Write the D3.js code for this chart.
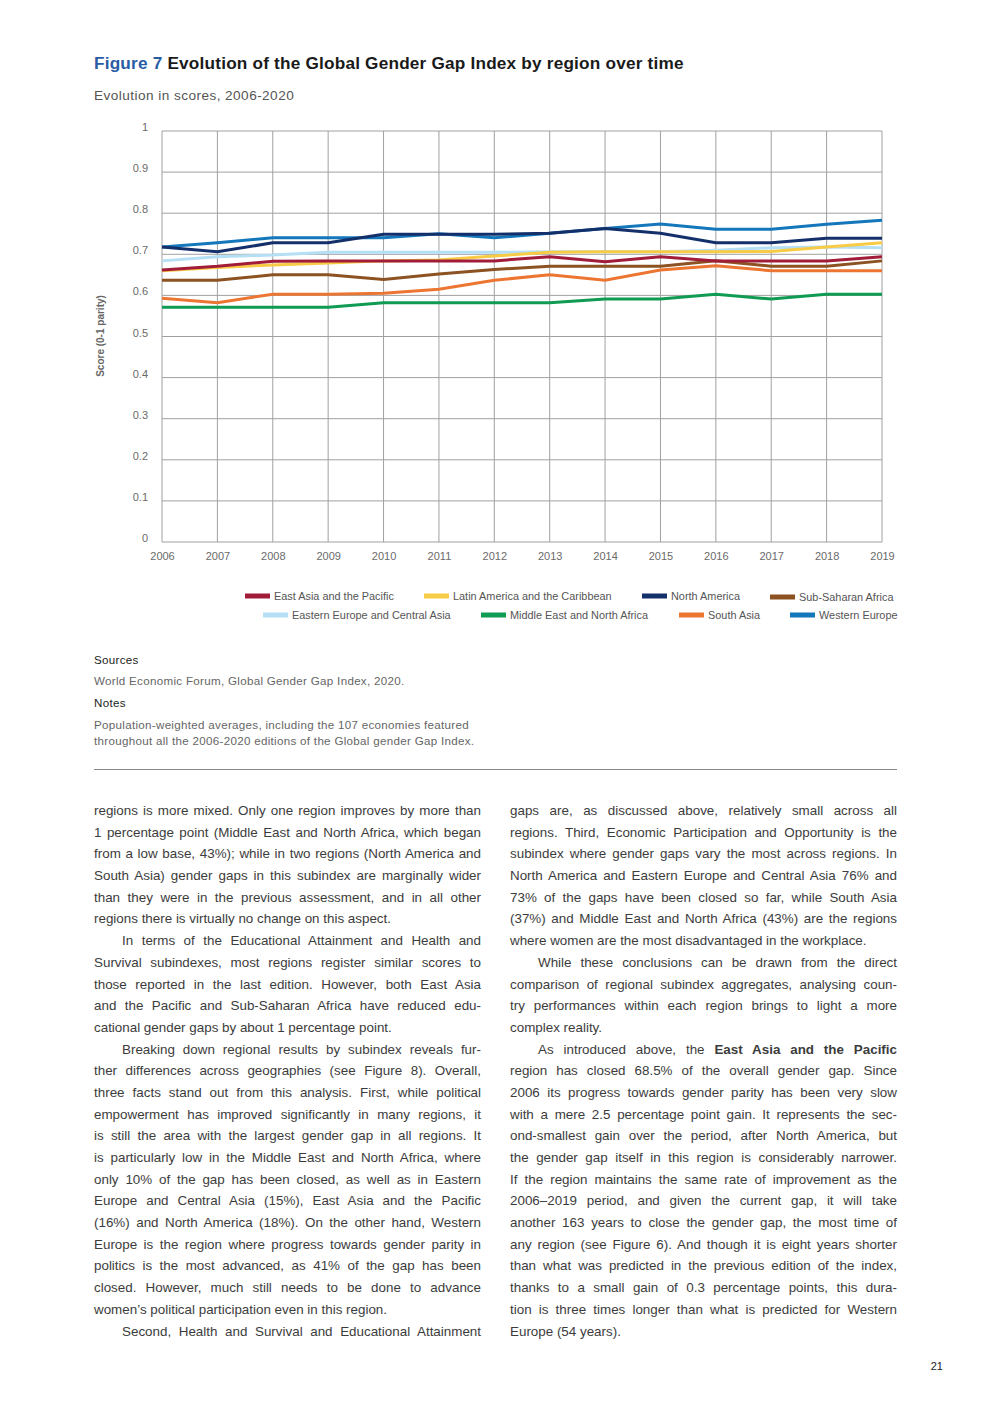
<!DOCTYPE html>
<html>
<head>
<meta charset="utf-8">
<script src="https://cdn.jsdelivr.net/npm/d3@7"></script>
<style>
  html, body { margin: 0; padding: 0; background: #fff; }
  #page { position: relative; width: 992px; height: 1403px; overflow: hidden; font-family: "Liberation Sans", Arial, sans-serif; }
  svg { position: absolute; left: 0; top: 0; }
  .col { position: absolute; width: 387px; font-size: 13.4px; color: #3c3c3c; line-height: 21.7px; }
  .ln { white-space: nowrap; text-align: justify; text-align-last: justify; height: 21.7px; overflow: visible; }
  .ln.last { text-align-last: left; }
  .ln.ind { padding-left: 28px; }
</style>
</head>
<body>
<div id="page"></div>
<script>
// ---------------- data ----------------
const years = [2006, 2007, 2008, 2009, 2010, 2011, 2012, 2013, 2014, 2015, 2016, 2017, 2018, 2019];
const yearLabels = ["2006","2007","2008","2009","2010","2011","2012","2013","2014","2015","2016","2017","2018","2019"];
const yTicks = [0, 0.1, 0.2, 0.3, 0.4, 0.5, 0.6, 0.7, 0.8, 0.9, 1];
const yTickLabels = ["0","0.1","0.2","0.3","0.4","0.5","0.6","0.7","0.8","0.9","1"];

const regionNames = ["East Asia and the Pacific", "Latin America and the Caribbean", "North America", "Sub-Saharan Africa",
                     "Eastern Europe and Central Asia", "Middle East and North Africa", "South Asia", "Western Europe"];
const regionColors = ["#a11c39", "#f7cb45", "#14306b", "#8d5222", "#b5dff5", "#0f9b53", "#ec7631", "#1477bc"];

const eastAsiaPacific = [0.662, 0.671, 0.683, 0.684, 0.684, 0.684, 0.684, 0.694, 0.682, 0.694, 0.684, 0.684, 0.684, 0.694];
const latinAmerica    = [0.660, 0.668, 0.674, 0.679, 0.684, 0.686, 0.696, 0.705, 0.706, 0.706, 0.706, 0.707, 0.718, 0.728];
const northAmerica    = [0.718, 0.706, 0.728, 0.728, 0.749, 0.749, 0.749, 0.751, 0.763, 0.751, 0.728, 0.728, 0.739, 0.739];
const subSaharan      = [0.637, 0.637, 0.650, 0.650, 0.639, 0.652, 0.663, 0.671, 0.671, 0.671, 0.684, 0.671, 0.671, 0.684];
const easternEurope   = [0.684, 0.694, 0.698, 0.705, 0.705, 0.705, 0.705, 0.706, 0.706, 0.706, 0.710, 0.716, 0.718, 0.716];
const middleEast      = [0.571, 0.571, 0.571, 0.571, 0.582, 0.582, 0.582, 0.582, 0.591, 0.591, 0.603, 0.591, 0.603, 0.603];
const southAsia       = [0.593, 0.582, 0.603, 0.603, 0.605, 0.615, 0.637, 0.650, 0.637, 0.662, 0.672, 0.660, 0.660, 0.660];
const westernEurope   = [0.718, 0.728, 0.740, 0.740, 0.740, 0.750, 0.740, 0.751, 0.763, 0.774, 0.761, 0.761, 0.773, 0.783];

const seriesValues = [eastAsiaPacific, latinAmerica, northAmerica, subSaharan, easternEurope, middleEast, southAsia, westernEurope];

const leftColumn = [
  ["regions is more mixed. Only one region improves by more than", ""],
  ["1 percentage point (Middle East and North Africa, which began", ""],
  ["from a low base, 43%); while in two regions (North America and", ""],
  ["South Asia) gender gaps in this subindex are marginally wider", ""],
  ["than they were in the previous assessment, and in all other", ""],
  ["regions there is virtually no change on this aspect.", "last"],
  ["In terms of the Educational Attainment and Health and", "ind"],
  ["Survival subindexes, most regions register similar scores to", ""],
  ["those reported in the last edition. However, both East Asia", ""],
  ["and the Pacific and Sub-Saharan Africa have reduced edu-", ""],
  ["cational gender gaps by about 1 percentage point.", "last"],
  ["Breaking down regional results by subindex reveals fur-", "ind"],
  ["ther differences across geographies (see Figure 8). Overall,", ""],
  ["three facts stand out from this analysis. First, while political", ""],
  ["empowerment has improved significantly in many regions, it", ""],
  ["is still the area with the largest gender gap in all regions. It", ""],
  ["is particularly low in the Middle East and North Africa, where", ""],
  ["only 10% of the gap has been closed, as well as in Eastern", ""],
  ["Europe and Central Asia (15%), East Asia and the Pacific", ""],
  ["(16%) and North America (18%). On the other hand, Western", ""],
  ["Europe is the region where progress towards gender parity in", ""],
  ["politics is the most advanced, as 41% of the gap has been", ""],
  ["closed. However, much still needs to be done to advance", ""],
  ["women’s political participation even in this region.", "last"],
  ["Second, Health and Survival and Educational Attainment", "ind"]
];
const rightColumn = [
  ["gaps are, as discussed above, relatively small across all", ""],
  ["regions. Third, Economic Participation and Opportunity is the", ""],
  ["subindex where gender gaps vary the most across regions. In", ""],
  ["North America and Eastern Europe and Central Asia 76% and", ""],
  ["73% of the gaps have been closed so far, while South Asia", ""],
  ["(37%) and Middle East and North Africa (43%) are the regions", ""],
  ["where women are the most disadvantaged in the workplace.", "last"],
  ["While these conclusions can be drawn from the direct", "ind"],
  ["comparison of regional subindex aggregates, analysing coun-", ""],
  ["try performances within each region brings to light a more", ""],
  ["complex reality.", "last"],
  ["As introduced above, the <b>East Asia and the Pacific</b>", "ind"],
  ["region has closed 68.5% of the overall gender gap. Since", ""],
  ["2006 its progress towards gender parity has been very slow", ""],
  ["with a mere 2.5 percentage point gain. It represents the sec-", ""],
  ["ond-smallest gain over the period, after North America, but", ""],
  ["the gender gap itself in this region is considerably narrower.", ""],
  ["If the region maintains the same rate of improvement as the", ""],
  ["2006–2019 period, and given the current gap, it will take", ""],
  ["another 163 years to close the gender gap, the most time of", ""],
  ["any region (see Figure 6). And though it is eight years shorter", ""],
  ["than what was predicted in the previous edition of the index,", ""],
  ["thanks to a small gain of 0.3 percentage points, this dura-", ""],
  ["tion is three times longer than what is predicted for Western", ""],
  ["Europe (54 years).", "last"]
];

// ---------------- drawing ----------------
const W = 992, H = 1403;
const page = d3.select("#page");
const svg = page.append("svg").attr("width", W).attr("height", H);
svg.append("rect").attr("width", W).attr("height", H).attr("fill", "#fff");

const font = '"Liberation Sans", Arial, sans-serif';

// Title
const title = svg.append("text").attr("x", 94).attr("y", 69)
  .attr("font-family", font).attr("font-size", 17.2).attr("letter-spacing", 0.2).attr("font-weight", "bold");
title.append("tspan").attr("fill", "#2a5ca5").text("Figure 7 ");
title.append("tspan").attr("fill", "#1a1a1a").text("Evolution of the Global Gender Gap Index by region over time");

svg.append("text").attr("x", 94).attr("y", 100)
  .attr("font-family", font).attr("font-size", 13.6).attr("letter-spacing", 0.45).attr("fill", "#555")
  .text("Evolution in scores, 2006-2020");

// Plot area
const x0 = 162, x1 = 882, yTop = 131, yBot = 542;
const x = d3.scalePoint().domain(years).range([x0, x1]);
const y = d3.scaleLinear().domain([0, 1]).range([yBot, yTop]);

const g = svg.append("g");
// grid
g.append("g").selectAll("line").data(yTicks).join("line")
  .attr("x1", x0).attr("x2", x1).attr("y1", d => y(d)).attr("y2", d => y(d))
  .attr("stroke", "#a0a0a0").attr("stroke-width", 1);
g.append("g").selectAll("line").data(years).join("line")
  .attr("x1", d => x(d)).attr("x2", d => x(d)).attr("y1", yTop).attr("y2", yBot)
  .attr("stroke", "#a0a0a0").attr("stroke-width", 1);

// axes labels via d3 axes (no lines)
const yAxis = d3.axisLeft(y).tickValues(yTicks).tickFormat((d, i) => yTickLabels[i]).tickSize(0).tickPadding(14);
const ya = svg.append("g").attr("transform", `translate(${x0},-4)`).call(yAxis);
ya.select(".domain").remove();
ya.selectAll("text").attr("font-family", font).attr("font-size", 11).attr("fill", "#6a6a6a");

const xAxis = d3.axisBottom(x).tickFormat((d, i) => yearLabels[i]).tickSize(0).tickPadding(10);
const xa = svg.append("g").attr("transform", `translate(0,${yBot})`).call(xAxis);
xa.select(".domain").remove();
xa.selectAll("text").attr("font-family", font).attr("font-size", 11).attr("fill", "#6a6a6a");

svg.append("text").attr("transform", `translate(104,336) rotate(-90)`)
  .attr("text-anchor", "middle").attr("font-family", font).attr("font-size", 10)
  .attr("font-weight", "bold").attr("fill", "#666").text("Score (0-1 parity)");

// lines (reverse legend order so first legend item is on top)
const line = d3.line().x((d, i) => x(years[i])).y(d => y(d));
const order = d3.range(seriesValues.length).reverse();
svg.append("g").selectAll("path").data(order).join("path")
  .attr("d", i => line(seriesValues[i]))
  .attr("fill", "none").attr("stroke", i => regionColors[i])
  .attr("stroke-width", 3).attr("stroke-linejoin", "miter");

// Legend
const legendPos = [
  {sx: 245, ty: 596}, {sx: 424, ty: 596}, {sx: 642, ty: 596}, {sx: 770, ty: 597},
  {sx: 263, ty: 615}, {sx: 481, ty: 615}, {sx: 679, ty: 615}, {sx: 790, ty: 615}
];
const lg = svg.append("g").selectAll("g").data(regionNames).join("g")
  .attr("transform", (d, i) => `translate(${legendPos[i].sx},${legendPos[i].ty})`);
lg.append("rect").attr("x", 0).attr("y", -2.5).attr("width", 25).attr("height", 5)
  .attr("fill", (d, i) => regionColors[i]);
lg.append("text").attr("x", 29).attr("y", 3.8).attr("font-family", font)
  .attr("font-size", 10.9).attr("fill", "#555").text(d => d);

// Sources & notes
const sn = [
  {t: "Sources", y: 664, c: "#222"},
  {t: "World Economic Forum, Global Gender Gap Index, 2020.", y: 685, c: "#666"},
  {t: "Notes", y: 707, c: "#222"},
  {t: "Population-weighted averages, including the 107 economies featured", y: 729, c: "#666"},
  {t: "throughout all the 2006-2020 editions of the Global gender Gap Index.", y: 745, c: "#666"}
];
svg.append("g").selectAll("text").data(sn).join("text")
  .attr("x", 94).attr("y", d => d.y).attr("font-family", font)
  .attr("font-size", 11.6).attr("letter-spacing", 0.3).attr("fill", d => d.c).text(d => d.t);

svg.append("line").attr("x1", 94).attr("x2", 897).attr("y1", 769.5).attr("y2", 769.5)
  .attr("stroke", "#888").attr("stroke-width", 1);

svg.append("text").attr("x", 943).attr("y", 1370).attr("text-anchor", "end")
  .attr("font-family", font).attr("font-size", 11).attr("fill", "#222").text("21");

// Body text columns
function addColumn(lines, left) {
  const col = page.append("div").attr("class", "col").style("left", left + "px").style("top", "800px");
  col.selectAll("div").data(lines).join("div")
    .attr("class", d => "ln " + d[1])
    .html(d => d[0]);
}
addColumn(leftColumn, 94);
addColumn(rightColumn, 510);
</script>
</body>
</html>
